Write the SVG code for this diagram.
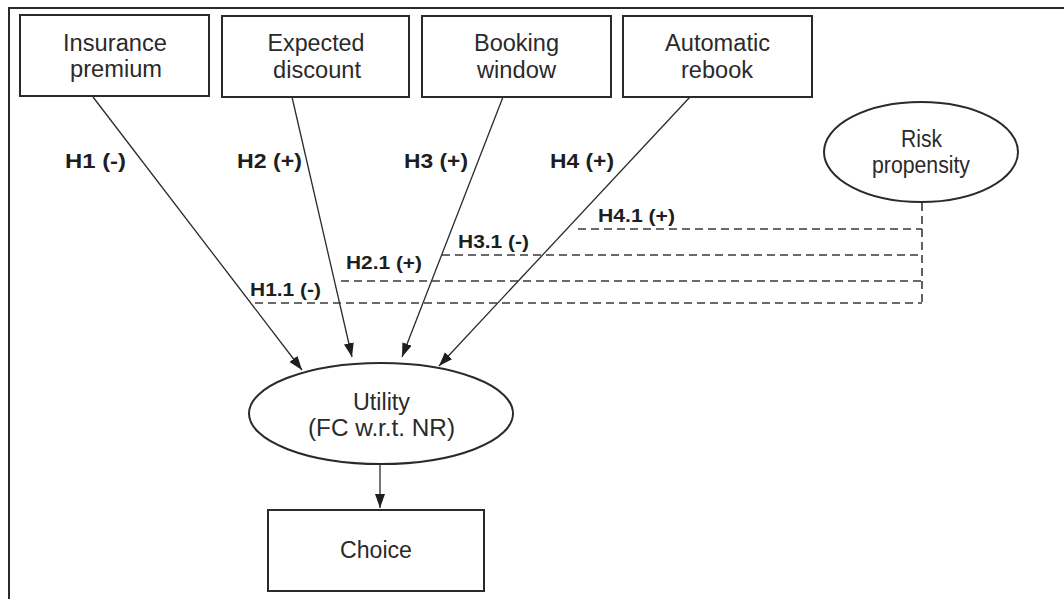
<svg xmlns="http://www.w3.org/2000/svg" width="1064" height="599" viewBox="0 0 1064 599">
<style>
.bx{fill:#fff;stroke:#2a2a2a;stroke-width:2}
.el{fill:#fff;stroke:#2a2a2a;stroke-width:2}
.t{font-family:"Liberation Sans",Arial,sans-serif;font-size:23px;fill:#2a2a2a;text-anchor:middle}
.l{font-family:"Liberation Sans",Arial,sans-serif;font-weight:bold;fill:#1e1e1e}
.l1{font-size:21px}
.l2{font-size:18px}
.ar{stroke:#2a2a2a;stroke-width:1.3;fill:none;marker-end:url(#ah)}
.ds{stroke:#3a3a3a;stroke-width:1.6;fill:none;stroke-dasharray:8 5}
</style>
<defs>
<marker id="ah" markerUnits="userSpaceOnUse" markerWidth="16" markerHeight="12" refX="14" refY="5" orient="auto">
<path d="M0,0 L14,5 L0,10 Z" fill="#1e1e1e"/>
</marker>
</defs>
<rect width="1064" height="599" fill="#fff"/>
<path d="M9,599 V8 H1064" fill="none" stroke="#2a2a2a" stroke-width="2"/>
<g id="connectors">
<line class="ar" x1="93" y1="97" x2="302" y2="370"/>
<line class="ar" x1="292" y1="97" x2="352" y2="357"/>
<line class="ar" x1="503" y1="97" x2="402" y2="357"/>
<line class="ar" x1="690" y1="97" x2="439" y2="366"/>
<line class="ar" x1="380" y1="464" x2="380" y2="508"/>
<line class="ds" x1="578" y1="229" x2="922" y2="229"/>
<line class="ds" x1="442" y1="255" x2="922" y2="255"/>
<line class="ds" x1="341" y1="281" x2="922" y2="281"/>
<line class="ds" x1="255" y1="303" x2="922" y2="303"/>
<line class="ds" x1="922" y1="203" x2="922" y2="303"/>
<text class="l l1" x="65" y="168" textLength="61" lengthAdjust="spacingAndGlyphs">H1 (-)</text>
<text class="l l1" x="237" y="168" textLength="65" lengthAdjust="spacingAndGlyphs">H2 (+)</text>
<text class="l l1" x="404" y="168" textLength="64" lengthAdjust="spacingAndGlyphs">H3 (+)</text>
<text class="l l1" x="550" y="168" textLength="64" lengthAdjust="spacingAndGlyphs">H4 (+)</text>
<text class="l l2" x="598" y="222" textLength="77" lengthAdjust="spacingAndGlyphs">H4.1 (+)</text>
<text class="l l2" x="458" y="248" textLength="71" lengthAdjust="spacingAndGlyphs">H3.1 (-)</text>
<text class="l l2" x="346" y="269" textLength="76" lengthAdjust="spacingAndGlyphs">H2.1 (+)</text>
<text class="l l2" x="250" y="296" textLength="71" lengthAdjust="spacingAndGlyphs">H1.1 (-)</text>
</g>
<g id="insurance">
<rect class="bx" x="20" y="15" width="189" height="81"/>
<text class="t" x="115" y="51" textLength="104" lengthAdjust="spacingAndGlyphs">Insurance</text>
<text class="t" x="116" y="77" textLength="92" lengthAdjust="spacingAndGlyphs">premium</text>
</g>
<g id="discount">
<rect class="bx" x="222" y="16" width="187" height="81"/>
<text class="t" x="316" y="51" textLength="97" lengthAdjust="spacingAndGlyphs">Expected</text>
<text class="t" x="317" y="78" textLength="88" lengthAdjust="spacingAndGlyphs">discount</text>
</g>
<g id="booking">
<rect class="bx" x="422" y="16" width="189" height="81"/>
<text class="t" x="516.5" y="51" textLength="85" lengthAdjust="spacingAndGlyphs">Booking</text>
<text class="t" x="516.5" y="78" textLength="79" lengthAdjust="spacingAndGlyphs">window</text>
</g>
<g id="rebook">
<rect class="bx" x="623" y="16" width="189" height="81"/>
<text class="t" x="717.5" y="51" textLength="105" lengthAdjust="spacingAndGlyphs">Automatic</text>
<text class="t" x="717" y="78" textLength="72" lengthAdjust="spacingAndGlyphs">rebook</text>
</g>
<g id="risk">
<ellipse class="el" cx="921" cy="152" rx="97" ry="50"/>
<text class="t" x="921.5" y="147" textLength="41" lengthAdjust="spacingAndGlyphs">Risk</text>
<text class="t" x="921" y="173" textLength="98" lengthAdjust="spacingAndGlyphs">propensity</text>
</g>
<g id="utility">
<ellipse class="el" cx="381" cy="413.5" rx="132" ry="50.5"/>
<text class="t" x="381.5" y="410" textLength="57" lengthAdjust="spacingAndGlyphs">Utility</text>
<text class="t" x="381.5" y="436" textLength="147" lengthAdjust="spacingAndGlyphs">(FC w.r.t. NR)</text>
</g>
<g id="choice">
<rect class="bx" x="268" y="510" width="216" height="81"/>
<text class="t" x="376" y="558" textLength="72" lengthAdjust="spacingAndGlyphs">Choice</text>
</g>
</svg>
